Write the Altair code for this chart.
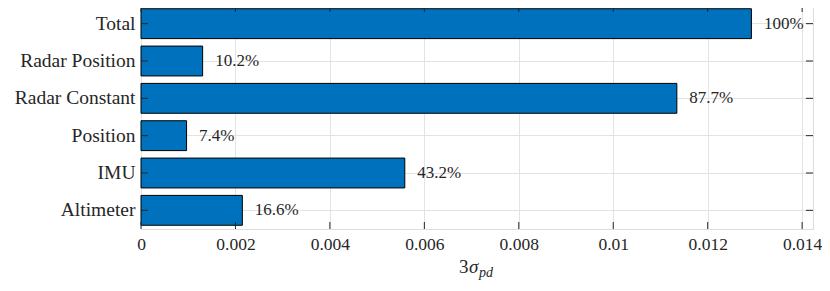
import altair as alt
import pandas as pd

categories = ["Total", "Radar Position", "Radar Constant", "Position", "IMU", "Altimeter"]
values = [0.012926, 0.001305, 0.011347, 0.000965, 0.005586, 0.002146]
pct_labels = ["100%", "10.2%", "87.7%", "7.4%", "43.2%", "16.6%"]
x_ticks = [0.0, 0.002, 0.004, 0.006, 0.008, 0.010, 0.012, 0.014]
x_max = 0.01423

W, H = 672, 224
DARK = "#262626"
FONT = "Liberation Serif"

df = pd.DataFrame({"cat": categories, "val": values, "lab": pct_labels})
ticks_df = pd.DataFrame({"t": x_ticks})

xscale = alt.Scale(domain=[0, x_max], nice=False, zero=True)
yscale = alt.Scale(domain=categories, paddingInner=0.2, paddingOuter=0.1)

bars = alt.Chart(df).mark_bar(color="#0072BD", stroke="#000000", strokeWidth=1).encode(
    x=alt.X("val:Q", scale=xscale,
            axis=alt.Axis(values=x_ticks, format=".3~f", title=None, grid=True,
                          gridColor="#e3e3e3", ticks=False, domain=False,
                          labelFont=FONT, labelFontSize=17.5, labelColor=DARK,
                          labelPadding=6, labelFlush=False)),
    y=alt.Y("cat:N", scale=yscale, sort=categories,
            axis=alt.Axis(title=None, grid=True, gridColor="#e3e3e3", ticks=False,
                          domain=False, bandPosition=0.5, labelFont=FONT,
                          labelFontSize=19.5, labelColor=DARK, labelPadding=6)),
)

texts = alt.Chart(df).mark_text(align="left", baseline="middle", dx=12.5, font=FONT,
                                fontSize=17, color=DARK).encode(
    x=alt.X("val:Q", scale=xscale),
    y=alt.Y("cat:N", scale=yscale, sort=categories),
    text="lab:N",
)

ytick_l = alt.Chart(df).mark_rule(color=DARK, strokeWidth=1).encode(
    y=alt.Y("cat:N", scale=yscale, sort=categories, bandPosition=0.5),
    x=alt.value(0), x2=alt.value(7),
)
ytick_r = alt.Chart(df).mark_rule(color=DARK, strokeWidth=1).encode(
    y=alt.Y("cat:N", scale=yscale, sort=categories, bandPosition=0.5),
    x=alt.value(W - 7), x2=alt.value(W),
)
xtick_b = alt.Chart(ticks_df).mark_rule(color=DARK, strokeWidth=1).encode(
    x=alt.X("t:Q", scale=xscale),
    y=alt.value(H - 7), y2=alt.value(H),
)
xtick_t = alt.Chart(ticks_df).mark_rule(color=DARK, strokeWidth=1).encode(
    x=alt.X("t:Q", scale=xscale),
    y=alt.value(0), y2=alt.value(7),
)

title_df = pd.DataFrame({"a": ["3"], "b": ["σ"], "c": ["pd"]})
t1 = alt.Chart(title_df).mark_text(align="left", baseline="alphabetic", font=FONT,
                                   fontSize=19, color=DARK).encode(
    x=alt.value(318), y=alt.value(H + 44), text="a:N")
t2 = alt.Chart(title_df).mark_text(align="left", baseline="alphabetic", font=FONT,
                                   fontSize=19, fontStyle="italic", color=DARK).encode(
    x=alt.value(328), y=alt.value(H + 44), text="b:N")
t3 = alt.Chart(title_df).mark_text(align="left", baseline="alphabetic", font=FONT,
                                   fontSize=14, fontStyle="italic", color=DARK).encode(
    x=alt.value(338), y=alt.value(H + 48), text="c:N")

chart = alt.layer(bars, texts, ytick_l, ytick_r, xtick_b, xtick_t, t1, t2, t3).properties(
    width=W, height=H,
    autosize=alt.AutoSizeParams(type="none"),
    padding={"left": 133, "top": -3, "right": 9, "bottom": 52},
).configure_view(stroke=DARK, strokeWidth=1).configure(background="white")

chart.save("out.html", embed_options={"renderer": "svg", "actions": False})
